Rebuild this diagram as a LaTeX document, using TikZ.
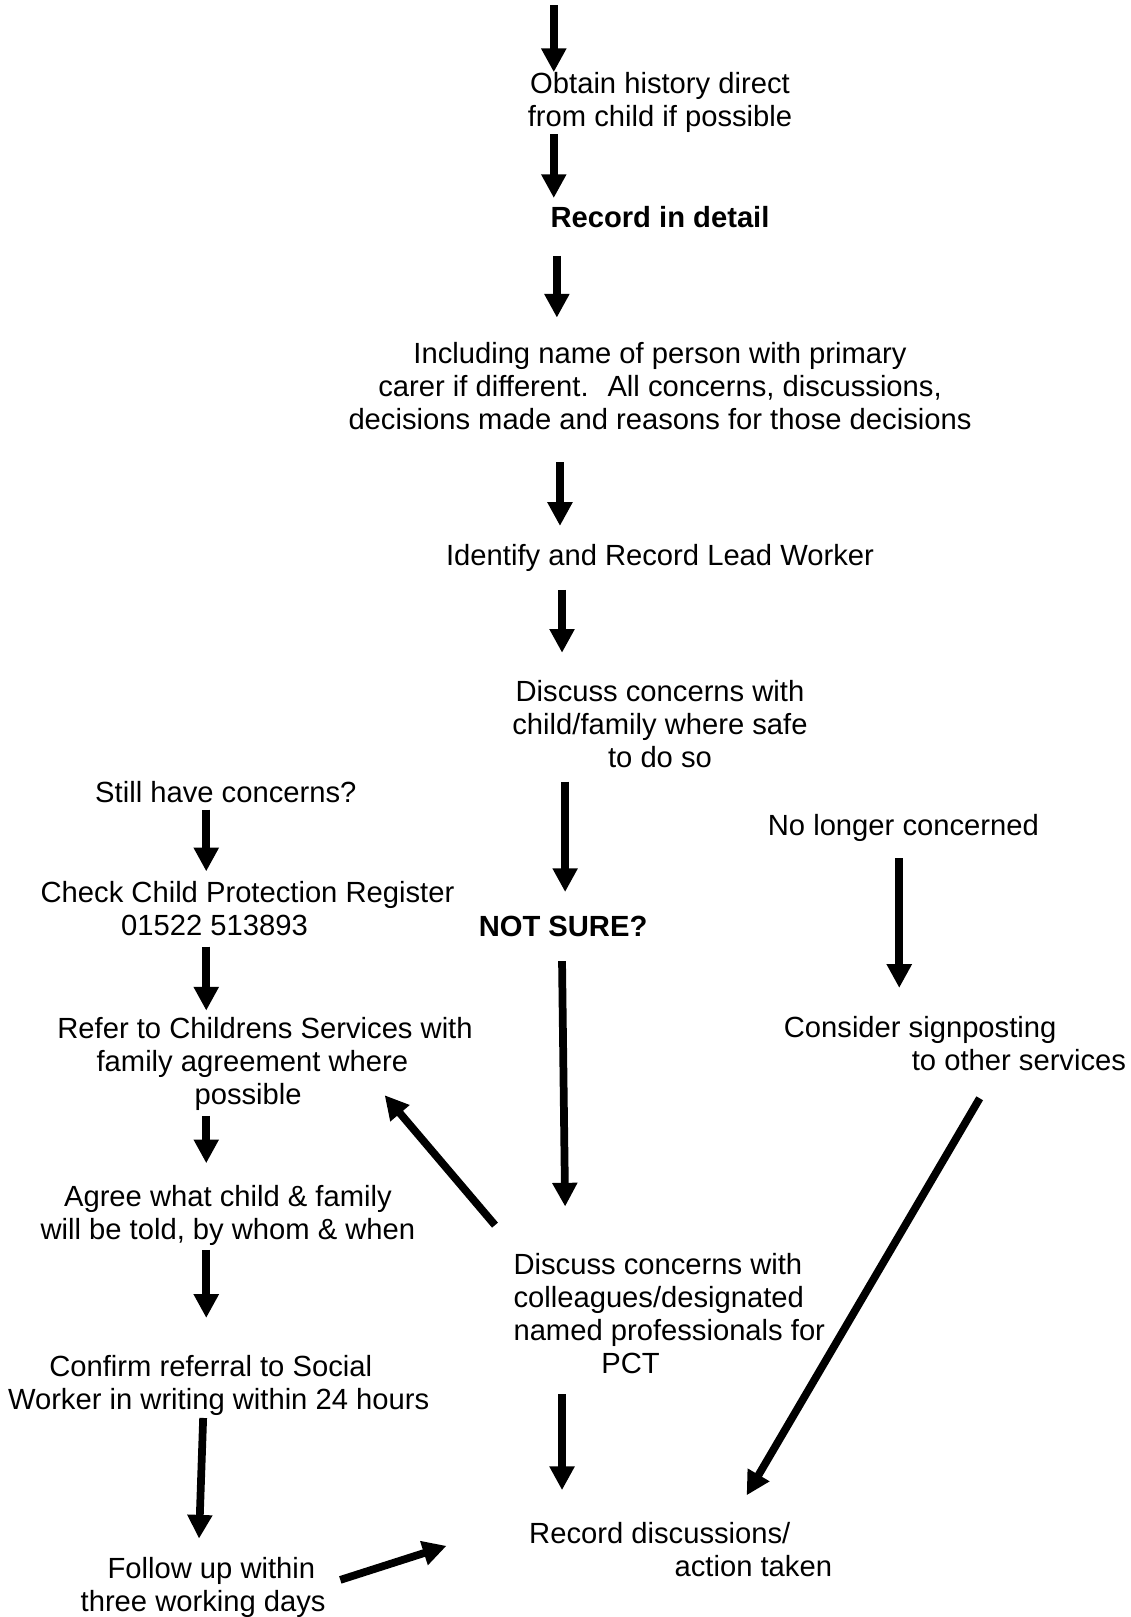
\documentclass[tikz,border=0pt]{standalone}
\usepackage{fontspec}
\setmainfont{Liberation Sans}
\usetikzlibrary{arrows.meta}
\usetikzlibrary{calc}
\tikzset{
  txt_c/.style = {align=center, inner sep=0pt,
    font=\fontsize{16.6}{18.8}\selectfont},% texte centre
  txt_l/.style = {txt_c, align=left},% texte a gauche
  txt_b/.style = {txt_c, font=\fontsize{16.6}{18.8}\selectfont\bfseries},% texte gras
  fl/.style = {line width=4.4pt}% fleche epaisse
}

\begin{document}
\begin{tikzpicture}[->,>={Triangle[length=13.5pt,width=13.5pt]},
  x=0.02062cm, y=-0.02062cm]
\useasboundingbox (0,0) rectangle (1096,1568);

% colonne du milieu
\node [txt_c] (obtain) at (640,99) {Obtain history direct\\from child if possible};
\node [txt_b] (detail) at (640,210) {Record in detail};
\node [txt_c] (including) at (640,374) {Including name of person with primary\\
  carer if different.~ All concerns, discussions,\\
  decisions made and reasons for those decisions};
\node [txt_c] (lead) at (640,541) {Identify and Record Lead Worker};
\node [txt_c] (discuss) at (640,702) {Discuss concerns with\\child/family where safe\\to do so};
\node [txt_b] (notsure) at (546,898) {NOT SURE?};
\node [txt_l] (colleagues) at (649,1274) {Discuss concerns with\\colleagues/designated\\
  named professionals for\\\hspace*{50pt}PCT};
\node [txt_l] (record) at (660,1503) {Record discussions/\\\hspace*{82.7pt}action taken};

% colonne de gauche
\node [txt_c] (still) at (219,768) {Still have concerns?};
\node [txt_l] (check) at (240,881) {Check Child Protection Register\\\hspace*{45.8pt}01522 513893};
\node [txt_l] (refer) at (257,1032) {Refer to Childrens Services with\\
  \hspace*{22.3pt}family agreement where\\\hspace*{78pt}possible};
\node [txt_c] (agree) at (221,1179) {Agree what child \& family\\will be told, by whom \& when};
\node [txt_l] (confirm) at (212,1343) {\hspace*{23.5pt}Confirm referral to Social\\
  Worker in writing within 24 hours};
\node [txt_l] (follow) at (197,1539) {\hspace*{15.3pt}Follow up within\\three working days};

% colonne de droite
\node [txt_c] (nolonger) at (876,803) {No longer concerned};
\node [txt_l] (consider) at (926,1012) {Consider signposting\\\hspace*{72.8pt}to other services};

\coordinate (top) at (537,5);

\draw [fl] (top) -- ($(obtain)+(-103,-29)$);
\draw [fl] ($(obtain)+(-103,31)$) -- ($(detail)+(-103,-18)$);
\draw [fl] ($(detail)+(-100,38)$) -- ($(including)+(-100,-66)$);
\draw [fl] ($(including)+(-97,74)$) -- ($(lead)+(-97,-31)$);
\draw [fl] ($(lead)+(-95,31)$) -- ($(discuss)+(-95,-69)$);
\draw [fl] ($(discuss)+(-92,56)$) -- ($(notsure)+(2,-33)$);
\draw [fl] ($(notsure)+(-1,34)$) -- ($(colleagues)+(-101,-104)$);
\draw [fl] ($(colleagues)+(-104,78)$) -- ($(record)+(-115,-58)$);

\draw [fl] ($(still)+(-19,17)$) -- ($(check)+(-40,-36)$);
\draw [fl] ($(check)+(-40,37)$) -- ($(refer)+(-57,-52)$);
\draw [fl] ($(refer)+(-57,50)$) -- ($(agree)+(-21,-51)$);
\draw [fl] ($(agree)+(-21,33)$) -- ($(confirm)+(-12,-65)$);
\draw [fl] ($(confirm)+(-15,32)$) -- ($(follow)+(-4,-47)$);
\draw [fl] ($(follow)+(133,-7)$) -- ($(record)+(-227,-4)$);
\draw [fl] ($(colleagues)+(-169,-86)$) -- ($(refer)+(116,30)$);

\draw [fl] ($(nolonger)+(-4,29)$) -- ($(consider)+(-54,-54)$);
\draw [fl] ($(consider)+(24,53)$) -- ($(record)+(64,-53)$);
\end{tikzpicture}
\end{document}
